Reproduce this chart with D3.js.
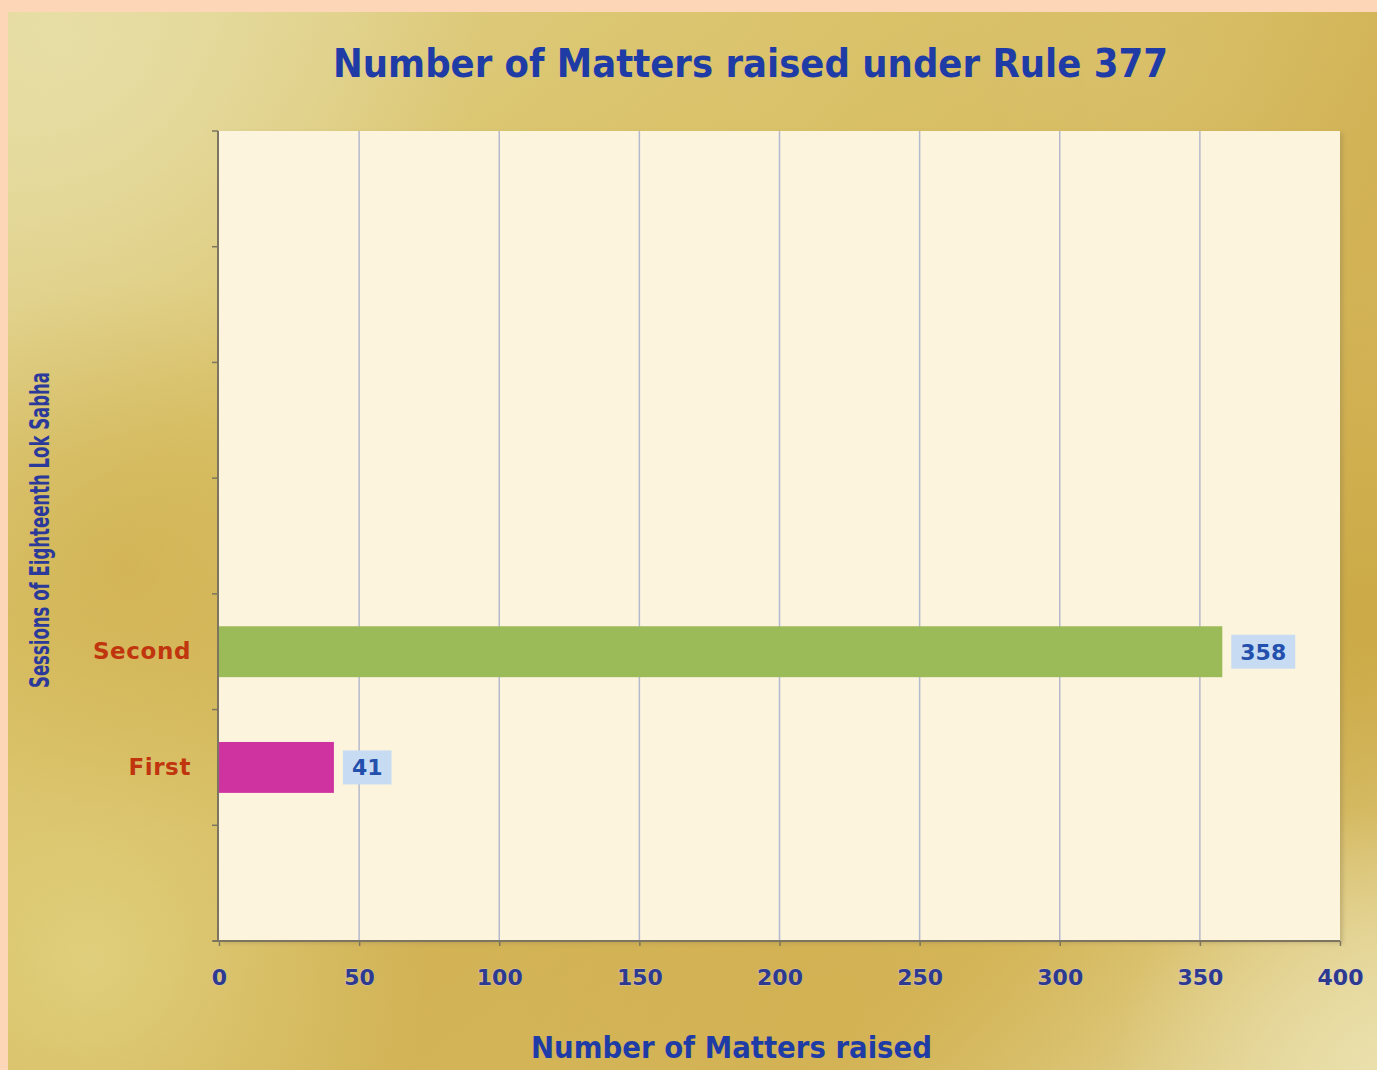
<!DOCTYPE html>
<html>
<head>
<meta charset="utf-8">
<script src="https://cdn.jsdelivr.net/npm/d3@7"></script>
<style>
  html, body { margin: 0; padding: 0; background: #fdd6b8; }
  svg { display: block; }
</style>
</head>
<body>
<svg id="chart" width="1377" height="1070"></svg>
<script>
// ---- data ----
const sessionSlots = ["", "First", "Second", "", "", "", ""]; // bottom to top
const sessions = ["First", "Second"];
const matters = [41, 358];
const barColors = ["#cf33a0", "#9bbb59"];
const xTicks = [0, 50, 100, 150, 200, 250, 300, 350, 400];
const titleText = "Number of Matters raised under Rule 377";
const xTitleText = "Number of Matters raised";
const yTitleText = "Sessions of Eighteenth Lok Sabha";

const svg = d3.select("#chart");
const W = 1377, H = 1070;
const plot = { left: 219, right: 1340, top: 131, bottom: 941 };

const defs = svg.append("defs");
const base = defs.append("linearGradient").attr("id", "gold")
  .attr("x1", "0%").attr("y1", "0%").attr("x2", "100%").attr("y2", "100%");
[["0%", "#e2d696"], ["30%", "#d9c166"], ["55%", "#d1b153"], ["80%", "#d5b75a"], ["100%", "#e3d597"]]
  .forEach(([o, c]) => base.append("stop").attr("offset", o).attr("stop-color", c));

// radial spots: [id, cx, cy, r (px), color, opacity]
const spots = [
  ["s1", 60, 40, 420, "#e8dfa8", 0.9],
  ["s2", 90, 960, 340, "#e3d585", 0.8],
  ["s3", 120, 560, 280, "#cba745", 0.45],
  ["s4", 1370, 620, 320, "#c6a23c", 0.65],
  ["s5", 1377, 1070, 260, "#ece2b0", 0.85],
  ["s6", 760, 90, 420, "#dcc673", 0.45],
  ["s7", 820, 1010, 320, "#cfac4b", 0.45],
  ["s8", 1150, 60, 280, "#ddc878", 0.45]
];
spots.forEach(([id, cx, cy, r, c, op]) => {
  const rg = defs.append("radialGradient").attr("id", id)
    .attr("gradientUnits", "userSpaceOnUse")
    .attr("cx", cx).attr("cy", cy).attr("r", r);
  rg.append("stop").attr("offset", "0%").attr("stop-color", c).attr("stop-opacity", op);
  rg.append("stop").attr("offset", "100%").attr("stop-color", c).attr("stop-opacity", 0);
});
const shadow = defs.append("filter").attr("id", "shadow")
  .attr("x", "-5%").attr("y", "-5%").attr("width", "110%").attr("height", "110%");
shadow.append("feDropShadow").attr("dx", 3).attr("dy", 2).attr("stdDeviation", 2)
  .attr("flood-color", "#8a7a50").attr("flood-opacity", 0.35);

// background panel
const panel = svg.append("g");
panel.append("rect").attr("x", 8).attr("y", 12).attr("width", W - 8).attr("height", H - 12)
  .attr("fill", "url(#gold)");
spots.forEach(([id]) => panel.append("rect").attr("x", 8).attr("y", 12)
  .attr("width", W - 8).attr("height", H - 12).attr("fill", `url(#${id})`));

// plot area
svg.append("rect").attr("x", plot.left).attr("y", plot.top)
  .attr("width", plot.right - plot.left).attr("height", plot.bottom - plot.top)
  .attr("fill", "#fdf4de").attr("filter", "url(#shadow)");

// scales
const x = d3.scaleLinear().domain([0, 400]).range([plot.left, plot.right]);
const y = d3.scaleBand().domain(d3.range(sessionSlots.length))
  .range([plot.bottom, plot.top]).paddingInner(0).paddingOuter(0);

// gridlines
svg.append("g").selectAll("line").data(xTicks.filter(t => t > 0 && t < 400)).join("line")
  .attr("x1", d => x(d)).attr("x2", d => x(d))
  .attr("y1", plot.top).attr("y2", plot.bottom)
  .attr("stroke", "#b4b9cd").attr("stroke-width", 1.5);

// bars
const barH = y.bandwidth() * 0.44;
const bars = sessions.map((s, i) => ({ s, v: matters[i], slot: sessionSlots.indexOf(s), c: barColors[i] }));
svg.append("g").selectAll("rect").data(bars).join("rect")
  .attr("x", x(0))
  .attr("y", d => y(d.slot) + (y.bandwidth() - barH) / 2)
  .attr("width", d => x(d.v) - x(0))
  .attr("height", barH)
  .attr("fill", d => d.c);

// value labels
const lbl = svg.append("g").selectAll("g").data(bars).join("g");
lbl.each(function (d) {
  const gg = d3.select(this);
  const t = gg.append("text")
    .attr("font-family", "DejaVu Sans, Verdana, sans-serif")
    .attr("font-weight", "bold").attr("font-size", 22)
    .attr("fill", "#2450ad")
    .attr("text-anchor", "middle")
    .text(d.v);
  const tw = t.node().getComputedTextLength();
  const bw = tw + 18, bh = 34;
  const bx = x(d.v) + 9;
  const cy = y(d.slot) + y.bandwidth() / 2;
  gg.insert("rect", "text").attr("x", bx).attr("y", cy - bh / 2)
    .attr("width", bw).attr("height", bh).attr("fill", "#c7dcf3");
  t.attr("x", bx + bw / 2).attr("y", cy + 8);
});

// x axis
const xAxis = svg.append("g").attr("transform", `translate(0,${plot.bottom})`)
  .call(d3.axisBottom(x).tickValues(xTicks).tickSize(5).tickSizeOuter(0).tickPadding(23));
xAxis.select(".domain").attr("stroke", "#7d7560").attr("stroke-width", 2)
  .attr("d", `M${plot.left - 6},0H${plot.right}`);
xAxis.selectAll(".tick line").attr("stroke", "#7d7560").attr("stroke-width", 1.5);
xAxis.selectAll(".tick text")
  .attr("font-family", "DejaVu Sans, Verdana, sans-serif")
  .attr("font-weight", "bold").attr("font-size", 22)
  .attr("fill", "#2e3a8f")
  .attr("stroke", "rgba(210,215,255,0.45)").attr("stroke-width", 1.2).attr("paint-order", "stroke");

// y axis: labels at band centres, ticks at boundaries
const yAxis = svg.append("g").attr("transform", `translate(${plot.left - 1},0)`)
  .call(d3.axisLeft(y).tickFormat(i => sessionSlots[i]).tickSize(0).tickPadding(27));
yAxis.select(".domain").attr("stroke", "#7d7560").attr("stroke-width", 2)
  .attr("d", `M0,${plot.top}V${plot.bottom}`);
yAxis.selectAll(".tick text")
  .attr("font-family", "DejaVu Sans, Verdana, sans-serif")
  .attr("font-weight", "bold").attr("font-size", 23)
  .attr("letter-spacing", 0.6)
  .attr("fill", "#c0350e");
const bounds = d3.range(sessionSlots.length).map(i => y(i)).concat([y(0) + y.bandwidth()]);
svg.append("g").selectAll("line").data(bounds).join("line")
  .attr("x1", plot.left - 7).attr("x2", plot.left - 1)
  .attr("y1", d => d).attr("y2", d => d)
  .attr("stroke", "#7d7560").attr("stroke-width", 1.5);

// titles
const condensed = "DejaVu Sans Condensed, DejaVu Sans, sans-serif";
svg.append("text").attr("x", 333).attr("y", 77)
  .attr("font-family", condensed).attr("font-stretch", "condensed")
  .attr("font-weight", "bold").attr("font-size", 39)
  .attr("fill", "#1f3ca6")
  .attr("textLength", 835).attr("lengthAdjust", "spacingAndGlyphs")
  .text(titleText);

svg.append("text").attr("x", 531).attr("y", 1058)
  .attr("font-family", condensed).attr("font-stretch", "condensed")
  .attr("font-weight", "bold").attr("font-size", 31)
  .attr("fill", "#1f3ca6")
  .attr("textLength", 401).attr("lengthAdjust", "spacingAndGlyphs")
  .text(xTitleText);

svg.append("text")
  .attr("transform", `translate(49,688) rotate(-90)`)
  .attr("font-family", condensed).attr("font-stretch", "condensed")
  .attr("font-weight", "bold").attr("font-size", 26)
  .attr("fill", "#2b3a9a")
  .attr("textLength", 316).attr("lengthAdjust", "spacingAndGlyphs")
  .text(yTitleText);
</script>
</body>
</html>
